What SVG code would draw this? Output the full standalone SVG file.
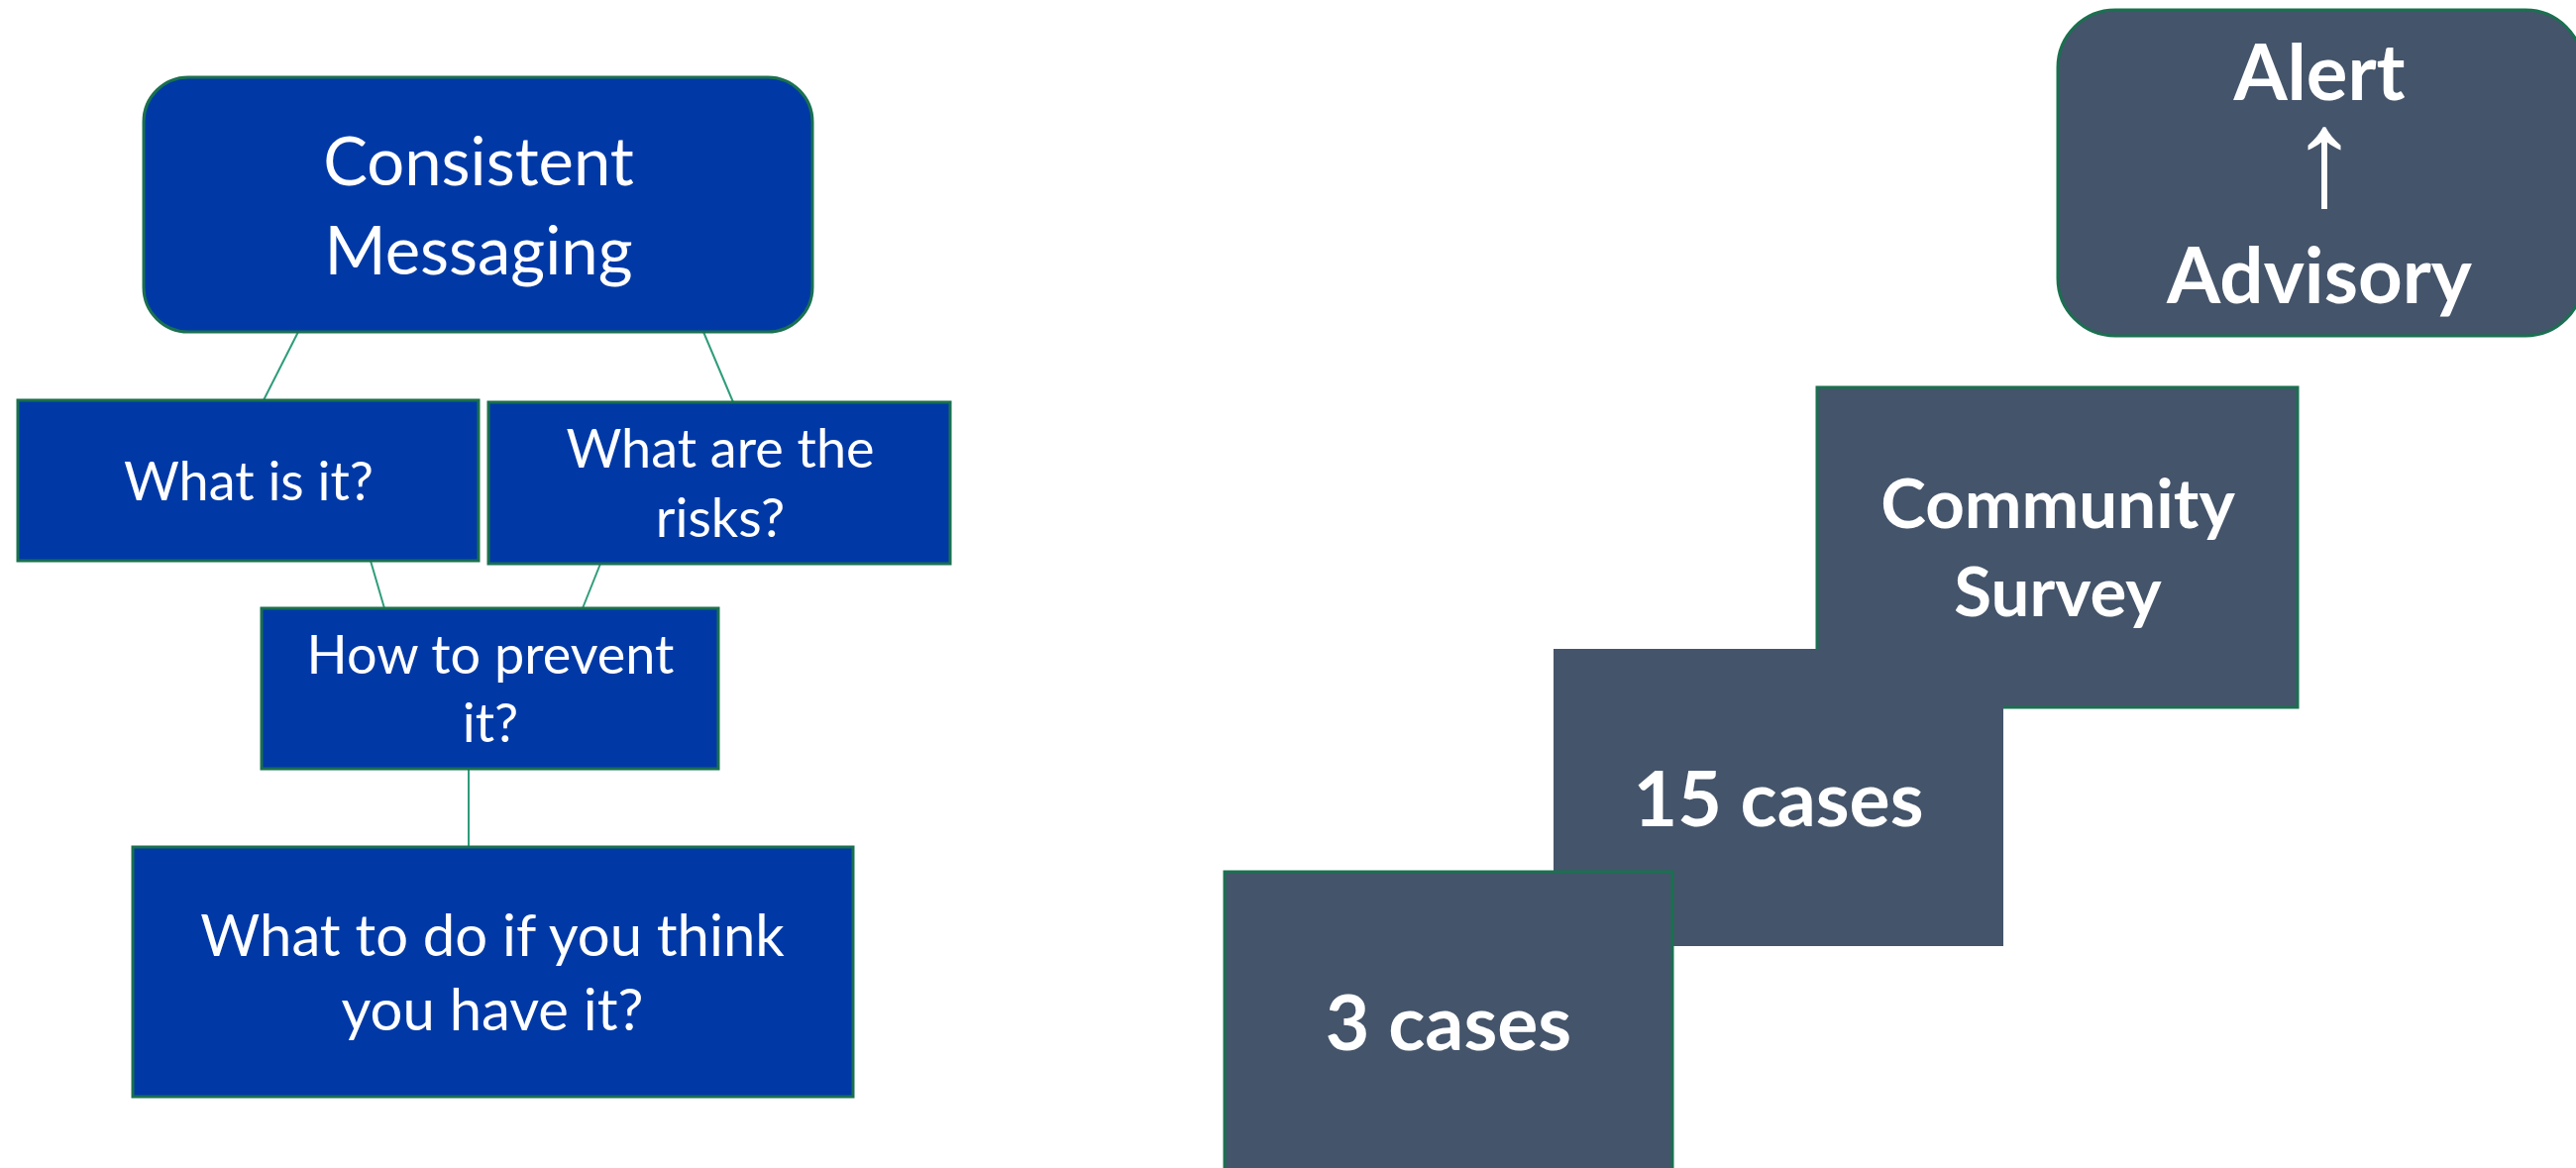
<svg xmlns="http://www.w3.org/2000/svg" width="2600" height="1179" viewBox="0 0 2600 1179">
<style>
.blue{fill:#0039A6;stroke:#1A7050;stroke-width:3}
.slate{fill:#44546A;stroke:#1A7050;stroke-width:3}
.plain{fill:#44546A;stroke:none}
.conn{stroke:#2E9C7A;stroke-width:2;fill:none}
text{fill:#FFFFFF;font-family:Lato,"Open Sans",sans-serif;text-anchor:middle}
.r{font-weight:400}
.b{font-weight:700}
</style>
<rect width="2600" height="1179" fill="#FFFFFF"/>
<g id="connectors">
<line class="conn" x1="301" y1="335" x2="266" y2="404"/>
<line class="conn" x1="710" y1="335" x2="740" y2="406"/>
<line class="conn" x1="374" y1="566" x2="388" y2="614"/>
<line class="conn" x1="606" y1="569" x2="588" y2="614"/>
<line class="conn" x1="473" y1="776" x2="473" y2="855"/>
</g>
<g id="consistent-messaging">
<rect class="blue" x="145" y="78" width="675" height="257" rx="45" ry="45"/>
<text class="r" x="483" y="187" font-size="67">Consistent</text>
<text class="r" x="483" y="277" font-size="67">Messaging</text>
</g>
<g id="what-is-it">
<rect class="blue" x="18" y="404" width="465" height="162"/>
<text class="r" x="251" y="505" font-size="54">What is it?</text>
</g>
<g id="what-are-risks">
<rect class="blue" x="493" y="406" width="466" height="163"/>
<text class="r" x="727" y="472" font-size="54">What are the</text>
<text class="r" x="727" y="542" font-size="54">risks?</text>
</g>
<g id="how-to-prevent">
<rect class="blue" x="264" y="614" width="461" height="162"/>
<text class="r" x="495" y="680" font-size="54">How to prevent</text>
<text class="r" x="495" y="749" font-size="54">it?</text>
</g>
<g id="what-to-do">
<rect class="blue" x="134" y="855" width="727" height="252"/>
<text class="r" x="497" y="965" font-size="58">What to do if you think</text>
<text class="r" x="497" y="1040" font-size="58">you have it?</text>
</g>
<g id="alert-advisory">
<rect class="slate" x="2077" y="10" width="530" height="329" rx="58" ry="58"/>
<text class="b" x="2341" y="101" font-size="78">Alert</text>
<text class="b" x="2346" y="207" font-size="140" style="font-family:'Liberation Sans',sans-serif">↑</text>
<text class="b" x="2341" y="306" font-size="78">Advisory</text>
</g>
<g id="community-survey">
<rect class="slate" x="1834" y="391" width="485" height="323"/>
<text class="b" x="2077" y="533" font-size="69">Community</text>
<text class="b" x="2077" y="622" font-size="69">Survey</text>
</g>
<g id="cases-15">
<rect class="plain" x="1568" y="655" width="454" height="300"/>
<text class="b" x="1795" y="834" font-size="77">15 cases</text>
</g>
<g id="cases-3">
<rect class="slate" x="1236" y="880" width="452" height="320"/>
<text class="b" x="1462" y="1060" font-size="77">3 cases</text>
</g>
</svg>
